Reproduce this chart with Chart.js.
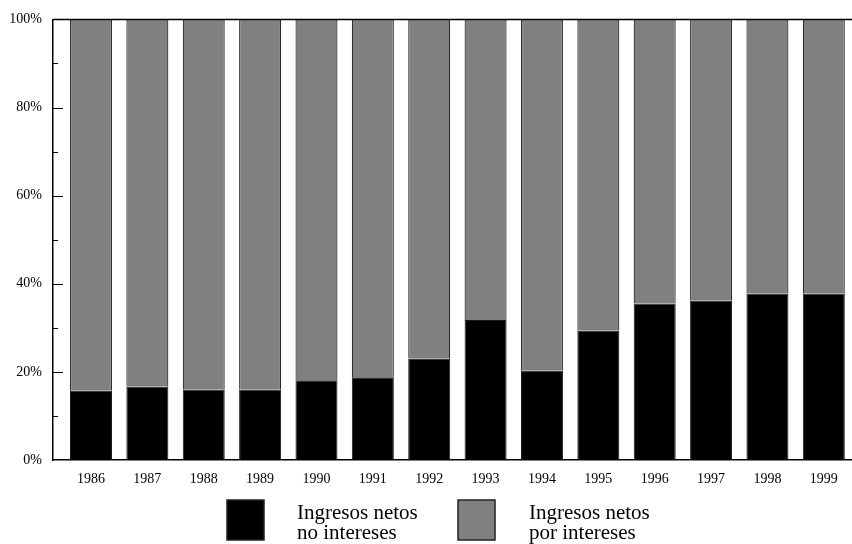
<!DOCTYPE html>
<html>
<head>
<meta charset="utf-8">
<script src="https://cdn.jsdelivr.net/npm/chart.js@4.4.1/dist/chart.umd.min.js"></script>
<style>
  html, body { margin: 0; padding: 0; background: #fff; }
  #wrap { width: 852px; height: 544px; position: relative; }
</style>
</head>
<body>
<div id="wrap"><canvas id="chart"></canvas></div>
<script>
// data (share of total, %)
const years = [1986, 1987, 1988, 1989, 1990, 1991, 1992, 1993, 1994, 1995, 1996, 1997, 1998, 1999];
const noIntereses = [15.7, 16.7, 16.0, 16.0, 18.1, 18.8, 23.0, 31.8, 20.3, 29.4, 35.5, 36.2, 37.8, 37.8];
const porIntereses = [84.3, 83.3, 84.0, 84.0, 81.9, 81.2, 77.0, 68.2, 79.7, 70.6, 64.5, 63.8, 62.2, 62.2];
const yTicks = [0, 20, 40, 60, 80, 100];
const seriesLabels = [["Ingresos netos", "no intereses"], ["Ingresos netos", "por intereses"]];

const FONT = "'Liberation Serif', 'Times New Roman', serif";

// inner ticks, top frame line and the legend under the axis
const framePlugin = {
  id: "frame",
  afterDraw(chart) {
    const ctx = chart.ctx;
    const ca = chart.chartArea;
    const y = chart.scales.y;
    ctx.save();
    ctx.strokeStyle = "#000";
    ctx.lineWidth = 1.5;
    ctx.beginPath();
    ctx.moveTo(ca.left, ca.top);
    ctx.lineTo(ca.right, ca.top);
    ctx.stroke();
    ctx.lineWidth = 1;
    for (let v = 10; v < 100; v += 10) {
      const py = Math.round(y.getPixelForValue(v)) + 0.5;
      const len = v % 20 === 0 ? 10 : 5;
      ctx.beginPath();
      ctx.moveTo(ca.left, py);
      ctx.lineTo(ca.left + len, py);
      ctx.stroke();
    }
    // legend
    const items = [
      { box: 227, text: 297, ds: chart.data.datasets[0] },
      { box: 458, text: 529, ds: chart.data.datasets[1] }
    ];
    ctx.font = "21px " + FONT;
    ctx.textBaseline = "alphabetic";
    ctx.textAlign = "left";
    items.forEach((it, i) => {
      ctx.fillStyle = it.ds.backgroundColor;
      ctx.fillRect(it.box, 500, 37, 40);
      ctx.strokeStyle = "#222";
      ctx.lineWidth = 1.5;
      ctx.strokeRect(it.box, 500, 37, 40);
      ctx.fillStyle = "#000";
      seriesLabels[i].forEach((line, k) => ctx.fillText(line, it.text, 519 + k * 20));
    });
    ctx.restore();
  }
};

new Chart(document.getElementById("chart"), {
  type: "bar",
  data: {
    datasets: [
      {
        label: seriesLabels[0].join(" "),
        data: years.map((yr, i) => ({ x: yr, y: noIntereses[i] })),
        backgroundColor: "#000000",
        borderColor: "#1a1a1a",
        borderWidth: 1,
        barPercentage: 0.745,
        categoryPercentage: 1
      },
      {
        label: seriesLabels[1].join(" "),
        data: years.map((yr, i) => ({ x: yr, y: porIntereses[i] })),
        backgroundColor: "#808080",
        borderColor: "#2a2a2a",
        borderWidth: 1.2,
        barPercentage: 0.745,
        categoryPercentage: 1
      }
    ]
  },
  options: {
    responsive: true,
    maintainAspectRatio: false,
    animation: false,
    layout: { padding: { top: 18, left: 0, right: 0, bottom: 0 } },
    plugins: { legend: { display: false }, tooltip: { enabled: false } },
    scales: {
      x: {
        type: "linear",
        stacked: true,
        offset: false,
        min: 1985.326,
        max: 1999.5,
        grid: { display: false, drawTicks: false, offset: false },
        border: { display: true, color: "#000", width: 1.5 },
        afterBuildTicks: (scale) => { scale.ticks = years.map(v => ({ value: v })); },
        afterFit: (scale) => { scale.height = 84; },
        ticks: {
          autoSkip: false,
          maxRotation: 0,
          padding: 11,
          color: "#000",
          font: { family: FONT, size: 14 },
          callback: (v) => String(v)
        }
      },
      y: {
        stacked: true,
        min: 0,
        max: 100,
        grid: { display: false, drawTicks: false },
        border: { display: true, color: "#000", width: 1.5 },
        afterBuildTicks: (scale) => { scale.ticks = yTicks.map(v => ({ value: v })); },
        afterFit: (scale) => { scale.width = 53; },
        ticks: {
          padding: 11,
          color: "#000",
          font: { family: FONT, size: 14 },
          callback: (v) => v + "%"
        }
      }
    }
  },
  plugins: [framePlugin]
});
</script>
</body>
</html>
